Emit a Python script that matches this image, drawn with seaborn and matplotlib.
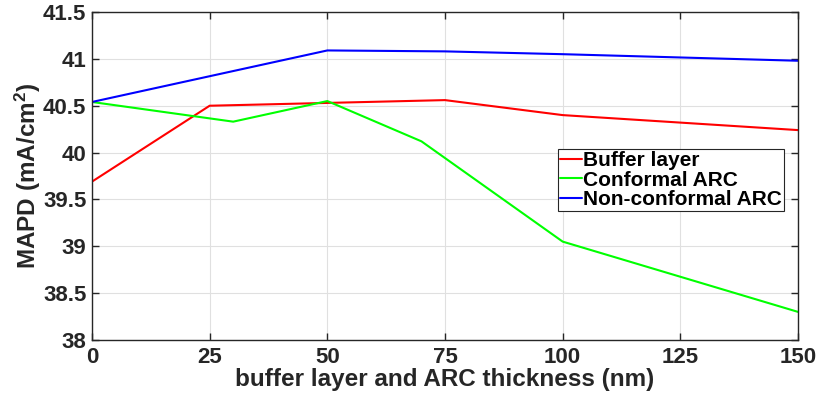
import numpy as np
import pandas as pd
import matplotlib
matplotlib.use("Agg")
import matplotlib.pyplot as plt
import seaborn as sns

# Thickness (nm) and MAPD (mA/cm^2) for each structure
buffer_x = [0, 25, 50, 75, 100, 150]
buffer_y = [39.69, 40.50, 40.53, 40.56, 40.40, 40.24]

conformal_x = [0, 30, 50, 70, 100, 150]
conformal_y = [40.54, 40.33, 40.55, 40.12, 39.05, 38.30]

nonconformal_x = [0, 50, 75, 100, 150]
nonconformal_y = [40.54, 41.09, 41.08, 41.05, 40.98]

series_names = ["Buffer layer", "Conformal ARC", "Non-conformal ARC"]
series_colors = ["#ff0000", "#00ff00", "#0000ff"]

x_ticks = [0, 25, 50, 75, 100, 125, 150]
y_ticks = [38, 38.5, 39, 39.5, 40, 40.5, 41, 41.5]
y_tick_labels = ["38", "38.5", "39", "39.5", "40", "40.5", "41", "41.5"]

frames = []
for name, xs, ys in zip(series_names,
                        [buffer_x, conformal_x, nonconformal_x],
                        [buffer_y, conformal_y, nonconformal_y]):
    frames.append(pd.DataFrame({"thickness": xs, "mapd": ys, "series": name}))
df = pd.concat(frames, ignore_index=True)

sns.set_theme(style="white")
plt.rcParams["font.family"] = ["Liberation Sans", "DejaVu Sans"]
plt.rcParams["font.weight"] = "bold"
plt.rcParams["mathtext.fontset"] = "custom"
plt.rcParams["mathtext.rm"] = "Liberation Sans:bold"
plt.rcParams["mathtext.bf"] = "Liberation Sans:bold"
plt.rcParams["mathtext.default"] = "bf"

text_color = "#262626"
fig = plt.figure(figsize=(8.19, 3.98), dpi=100)
ax = fig.add_axes([0.1123, 0.1457, 0.8621, 0.8241])

sns.lineplot(data=df, x="thickness", y="mapd", hue="series",
             hue_order=series_names, palette=series_colors,
             sort=False, estimator=None, linewidth=1.5, ax=ax)

ax.set_xlim(0, 150)
ax.set_ylim(38, 41.5)
ax.set_xticks(x_ticks)
ax.set_xticklabels([str(t) for t in x_ticks])
ax.set_yticks(y_ticks)
ax.set_yticklabels(y_tick_labels)

ax.grid(True, color="#e0e0e0", linewidth=0.8)
ax.set_axisbelow(True)
for side in ["left", "bottom", "top", "right"]:
    ax.spines[side].set_visible(True)
    ax.spines[side].set_color(text_color)
    ax.spines[side].set_linewidth(1.0)

ax.tick_params(axis="both", direction="in", length=5, width=1.0,
               colors=text_color, labelsize=16, pad=3,
               top=True, right=True, bottom=True, left=True)
ax.tick_params(axis="y", pad=4)
ax.tick_params(axis="x", pad=5)
for lab in ax.get_xticklabels() + ax.get_yticklabels():
    lab.set_fontweight("bold")
    lab.set_color(text_color)

ax.set_xlabel("buffer layer and ARC thickness (nm)", fontsize=17.5,
              fontweight="bold", color=text_color, labelpad=0)
ax.set_ylabel("MAPD (mA/cm$^{2}$)", fontsize=17.5, fontweight="bold",
              color=text_color, labelpad=0)

leg = ax.legend(loc="upper left", bbox_to_anchor=(0.660, 0.582),
                fontsize=15, frameon=True, fancybox=False,
                edgecolor="#262626", framealpha=1, borderpad=0.1,
                labelspacing=0.02, handlelength=1.05, handletextpad=0.05,
                borderaxespad=0)
leg.get_frame().set_linewidth(0.8)
for t in leg.get_texts():
    t.set_fontweight("bold")
    t.set_color("black")

fig.savefig("out.png", dpi=100)
